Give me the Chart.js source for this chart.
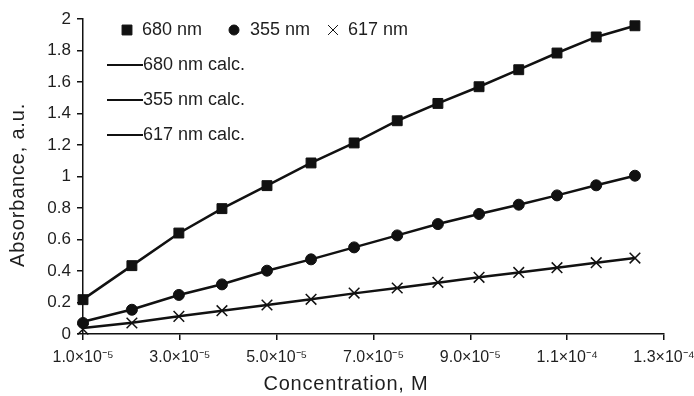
<!DOCTYPE html>
<html>
<head>
<meta charset="utf-8">
<script src="https://cdn.jsdelivr.net/npm/chart.js@4/dist/chart.umd.min.js"></script>
<style>
  html, body { margin: 0; padding: 0; background: #fff; }
  canvas { display: block; }
</style>
</head>
<body>
<canvas id="c" width="694" height="396"></canvas>
<script>
// ---- data ----
const concentration = [1.0e-5, 2.01e-5, 2.98e-5, 3.87e-5, 4.80e-5, 5.71e-5, 6.60e-5, 7.49e-5, 8.33e-5, 9.18e-5, 1.00e-4, 1.079e-4, 1.16e-4, 1.24e-4];
const abs680 = [0.218, 0.434, 0.641, 0.796, 0.942, 1.086, 1.213, 1.354, 1.464, 1.570, 1.678, 1.784, 1.886, 1.957];
const abs355 = [0.070, 0.154, 0.248, 0.315, 0.402, 0.474, 0.550, 0.626, 0.698, 0.762, 0.821, 0.880, 0.944, 1.005];
const abs617 = [0.030, 0.070, 0.112, 0.148, 0.184, 0.220, 0.260, 0.292, 0.328, 0.360, 0.391, 0.421, 0.453, 0.482];
const calc680 = [0.220, 0.434, 0.640, 0.796, 0.942, 1.086, 1.213, 1.354, 1.464, 1.570, 1.678, 1.784, 1.886, 1.957];
const calc355 = [0.078, 0.156, 0.248, 0.316, 0.402, 0.474, 0.550, 0.626, 0.698, 0.762, 0.821, 0.880, 0.944, 1.005];
const calc617 = [0.038, 0.072, 0.112, 0.148, 0.184, 0.220, 0.258, 0.292, 0.326, 0.360, 0.391, 0.421, 0.453, 0.482];

const xTickValues = [1.0e-5, 3.0e-5, 5.0e-5, 7.0e-5, 9.0e-5, 1.1e-4, 1.3e-4];
const xTickLabels = ['1.0×10⁻⁵', '3.0×10⁻⁵', '5.0×10⁻⁵', '7.0×10⁻⁵', '9.0×10⁻⁵', '1.1×10⁻⁴', '1.3×10⁻⁴'];
const yTickLabels = ['0', '0.2', '0.4', '0.6', '0.8', '1', '1.2', '1.4', '1.6', '1.8', '2'];

const seriesLabels = ['680 nm', '355 nm', '617 nm'];
const calcLabels = ['680 nm calc.', '355 nm calc.', '617 nm calc.'];
const xTitle = 'Concentration, M';
const yTitle = 'Absorbance, a.u.';

const INK = '#111111';
const TEXT = '#1e1e1e';
const FONT = "'Liberation Sans', Arial, sans-serif";

const pts = (ys) => concentration.map((x, i) => ({ x: x, y: ys[i] }));

const pointSet = (label, ys, style, radius, bw) => ({
  label: label, data: pts(ys), showLine: false, clip: false,
  pointStyle: style, pointRadius: radius, pointHoverRadius: radius,
  pointBackgroundColor: INK, pointBorderColor: INK, pointBorderWidth: bw,
  borderColor: INK, backgroundColor: INK, order: 0
});
const lineSet = (label, ys) => ({
  label: label, data: pts(ys), showLine: true, clip: false,
  borderColor: INK, borderWidth: 2.5, pointRadius: 0, tension: 0, order: 1
});

const legendPlugin = {
  id: 'customLegend',
  afterDraw(chart) {
    const ctx = chart.ctx;
    const ds = chart.data.datasets;
    ctx.save();
    ctx.font = "18px " + FONT;
    ctx.textBaseline = 'middle';
    ctx.textAlign = 'left';
    // row 1: markers
    const row1 = [
      { d: ds[3], mx: 127, tx: 142, r: 7 },
      { d: ds[4], mx: 234, tx: 250, r: 5 },
      { d: ds[5], mx: 333, tx: 348, r: 7 }
    ];
    row1.forEach(r => {
      ctx.fillStyle = INK; ctx.strokeStyle = INK;
      Chart.helpers.drawPoint(ctx, {
        pointStyle: r.d.pointStyle, radius: r.r, borderWidth: r.d.pointBorderWidth
      }, r.mx, 30);
      ctx.fillStyle = TEXT;
      ctx.fillText(r.d.label, r.tx, 30);
    });
    // rows 2-4: lines
    const ys = [65, 100, 135];
    [0, 1, 2].forEach((k, i) => {
      ctx.strokeStyle = INK;
      ctx.lineWidth = 2;
      ctx.beginPath();
      ctx.moveTo(107, ys[i]);
      ctx.lineTo(143, ys[i]);
      ctx.stroke();
      ctx.fillStyle = TEXT;
      ctx.fillText(ds[k].label, 143, ys[i]);
    });
    // axis titles
    ctx.font = "20px " + FONT;
    if ('letterSpacing' in ctx) ctx.letterSpacing = '0.8px';
    ctx.fillStyle = TEXT;
    ctx.textAlign = 'center';
    ctx.fillText(xTitle, 346, 384);
    ctx.translate(18, 185);
    ctx.rotate(-Math.PI / 2);
    ctx.fillText(yTitle, 0, 0);
    ctx.restore();
  }
};

new Chart(document.getElementById('c'), {
  type: 'scatter',
  data: {
    datasets: [
      lineSet(calcLabels[0], calc680),
      lineSet(calcLabels[1], calc355),
      lineSet(calcLabels[2], calc617),
      pointSet(seriesLabels[0], abs680, 'rect', 7, 1),
      pointSet(seriesLabels[1], abs355, 'circle', 5.5, 1),
      pointSet(seriesLabels[2], abs617, 'crossRot', 7.5, 1.5)
    ]
  },
  options: {
    responsive: false,
    animation: false,
    devicePixelRatio: 1,
    layout: { padding: { left: 0, right: 30, top: 19, bottom: 0 } },
    plugins: { legend: { display: false }, tooltip: { enabled: false } },
    scales: {
      x: {
        type: 'linear', min: 1.0e-5, max: 1.3e-4,
        afterBuildTicks: (scale) => { scale.ticks = xTickValues.map(v => ({ value: v })); },
        afterFit: (scale) => { scale.height = 62; scale.paddingLeft = 0; scale.paddingRight = 0; },
        grid: { display: true, drawOnChartArea: false, drawTicks: true, tickLength: 6, color: INK, lineWidth: 1.5 },
        border: { display: true, color: INK, width: 1.5 },
        ticks: {
          autoSkip: false, maxRotation: 0, padding: 8, color: TEXT,
          font: { family: FONT, size: 16 },
          callback: (v, i) => xTickLabels[i]
        },
        title: { display: false, text: xTitle }
      },
      y: {
        type: 'linear', min: 0, max: 2,
        ticks: {
          stepSize: 0.2, padding: 6, color: TEXT,
          font: { family: FONT, size: 17 },
          callback: (v, i) => yTickLabels[i]
        },
        afterFit: (scale) => { scale.width = 83; scale.paddingTop = 0; scale.paddingBottom = 0; },
        grid: { display: true, drawOnChartArea: false, drawTicks: true, tickLength: 6, color: INK, lineWidth: 1.5 },
        border: { display: true, color: INK, width: 1.5 },
        title: { display: false, text: yTitle }
      }
    }
  },
  plugins: [legendPlugin]
});
</script>
</body>
</html>
